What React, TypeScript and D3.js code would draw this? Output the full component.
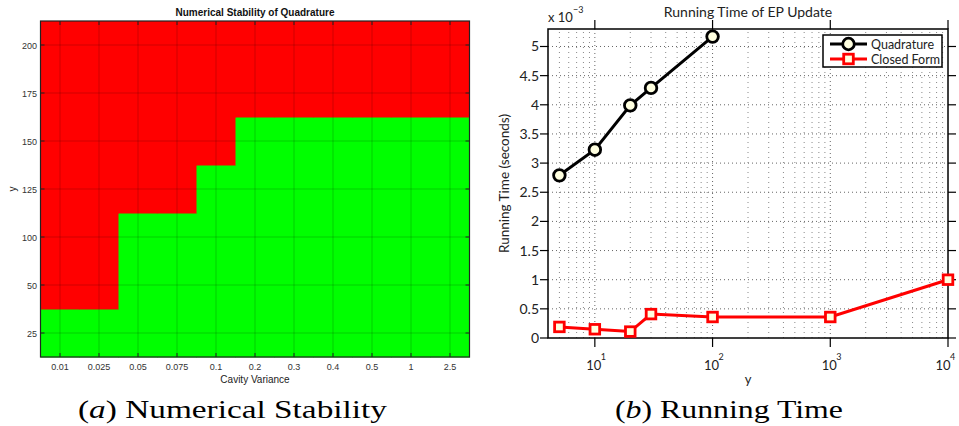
import React from 'react';
import * as d3 from 'd3';

// ---- left panel: stability grid ----
const varianceLabels = ['0.01', '0.025', '0.05', '0.075', '0.1', '0.2', '0.3', '0.4', '0.5', '1', '2.5'];
const yLabels = ['25', '50', '100', '125', '150', '175', '200'];
// 1 = stable (green), 0 = unstable (red); one row per y label
const stableGrid = [
  [1, 1, 1, 1, 1, 1, 1, 1, 1, 1, 1],
  [0, 0, 1, 1, 1, 1, 1, 1, 1, 1, 1],
  [0, 0, 1, 1, 1, 1, 1, 1, 1, 1, 1],
  [0, 0, 0, 0, 1, 1, 1, 1, 1, 1, 1],
  [0, 0, 0, 0, 0, 1, 1, 1, 1, 1, 1],
  [0, 0, 0, 0, 0, 0, 0, 0, 0, 0, 0],
  [0, 0, 0, 0, 0, 0, 0, 0, 0, 0, 0],
];

// ---- right panel: running time (x 10^-3 s) ----
const quadY = [5, 10, 20, 30, 100];
const quadTime = [2.79, 3.23, 3.99, 4.29, 5.17];
const closedY = [5, 10, 20, 30, 100, 1000, 10000];
const closedTime = [0.19, 0.15, 0.11, 0.41, 0.36, 0.36, 1.0];
const timeTicks = [0, 0.5, 1, 1.5, 2, 2.5, 3, 3.5, 4, 4.5, 5];
const decadeTicks = [10, 100, 1000, 10000];

const cream = '#ffffe0';
const sansL = 'Liberation Sans, Arial, sans-serif';
const sansR = 'Lato, DejaVu Sans, sans-serif';
const serif = 'Liberation Serif, DejaVu Serif, serif';

const HeatPanel = () => {
  const x = d3.scaleBand().domain(varianceLabels).range([40.5, 469.5]);
  const y = d3.scaleBand().domain([...yLabels].reverse()).range([21, 357]);
  const bw = x.bandwidth();
  const bh = y.bandwidth();
  const [x0, x1] = x.range();
  const [y0, y1] = y.range();

  return (
    <g>
      {stableGrid.map((row, ri) =>
        row.map((v, ci) => (
          <rect
            key={`${ri}-${ci}`}
            x={x(varianceLabels[ci])}
            y={y(yLabels[ri])}
            width={bw + 0.5}
            height={bh + 0.5}
            fill={v ? '#00ff00' : '#ff0000'}
          />
        ))
      )}
      {/* faint grid at tick positions */}
      {varianceLabels.map(c => (
        <line key={c} x1={x(c)! + bw / 2} x2={x(c)! + bw / 2} y1={y0} y2={y1} stroke="rgba(0,0,0,0.18)" />
      ))}
      {yLabels.map(r => (
        <line key={r} x1={x0} x2={x1} y1={y(r)! + bh / 2} y2={y(r)! + bh / 2} stroke="rgba(0,0,0,0.18)" />
      ))}
      <rect x={x0} y={y0} width={x1 - x0} height={y1 - y0} fill="none" stroke="#222" strokeWidth={1.2} />
      {varianceLabels.map(c => {
        const cx = x(c)! + bw / 2;
        return (
          <g key={c}>
            <line x1={cx} x2={cx} y1={y1} y2={y1 - 4} stroke="#222" />
            <line x1={cx} x2={cx} y1={y0} y2={y0 + 4} stroke="#222" />
            <text x={cx} y={370} textAnchor="middle" fontSize={9} fill="#333" fontFamily={sansL}>{c}</text>
          </g>
        );
      })}
      {yLabels.map(r => {
        const cy = y(r)! + bh / 2;
        return (
          <g key={r}>
            <line x1={x0} x2={x0 + 4} y1={cy} y2={cy} stroke="#222" />
            <line x1={x1} x2={x1 - 4} y1={cy} y2={cy} stroke="#222" />
            <text x={37} y={cy + 3.5} textAnchor="end" fontSize={9} fill="#333" fontFamily={sansL}>{r}</text>
          </g>
        );
      })}
      <text x={255} y={16} textAnchor="middle" fontSize={10} fontWeight="bold" fill="#111" fontFamily={sansL}>
        Numerical Stability of Quadrature
      </text>
      <text x={255} y={383} textAnchor="middle" fontSize={10} fill="#222" fontFamily={sansL}>Cavity Variance</text>
      <text transform="translate(16,189) rotate(-90)" textAnchor="middle" fontSize={10} fill="#222" fontFamily={sansL}>y</text>
      <text x={232.5} y={418} textAnchor="middle" fontSize={26} fontFamily={serif} textLength={309} lengthAdjust="spacingAndGlyphs">
        (<tspan fontStyle="italic">a</tspan>) Numerical Stability
      </text>
    </g>
  );
};

const TimePanel = () => {
  const x = d3.scaleLog().domain([4, 10000]).range([548, 948]);
  const y = d3.scaleLinear().domain([0, 5.3]).range([338, 29]);
  const [x0, x1] = x.range();
  const [y0, y1] = y.range();

  const minorX: number[] = [];
  [1, 10, 100, 1000].forEach(d => {
    for (let k = 2; k <= 9; k++) {
      const v = k * d;
      if (v > 4 && v < 10000) minorX.push(v);
    }
  });

  const line = d3.line<[number, number]>().x(d => x(d[0])).y(d => y(d[1]));
  const quadPts = quadY.map((v, i) => [v, quadTime[i]] as [number, number]);
  const closedPts = closedY.map((v, i) => [v, closedTime[i]] as [number, number]);

  return (
    <g>
      <rect x={x0} y={y1} width={x1 - x0} height={y0 - y1} fill="#fff" />
      {minorX.map(v => (
        <line key={v} x1={x(v)} x2={x(v)} y1={y0} y2={y1} stroke="#888" strokeDasharray="1,4" />
      ))}
      {decadeTicks.slice(0, 3).map(v => (
        <line key={v} x1={x(v)} x2={x(v)} y1={y0} y2={y1} stroke="#666" strokeDasharray="1,3" />
      ))}
      {timeTicks.slice(1).map(v => (
        <line key={v} x1={x0} x2={x1} y1={y(v)} y2={y(v)} stroke="#666" strokeDasharray="1,3" />
      ))}
      <rect x={x0} y={y1} width={x1 - x0} height={y0 - y1} fill="none" stroke="#000" strokeWidth={1.5} />
      {timeTicks.map(v => (
        <g key={v}>
          <line x1={x0} x2={x0 - 8} y1={y(v)} y2={y(v)} stroke="#000" strokeWidth={1.2} />
          <line x1={x1} x2={x1 + 8} y1={y(v)} y2={y(v)} stroke="#000" strokeWidth={1.2} />
          <text x={539} y={y(v) + 5} textAnchor="end" fontSize={14} fill="#222" fontFamily={sansR}>{String(v)}</text>
        </g>
      ))}
      {decadeTicks.map(v => {
        const e = Math.round(Math.log10(v));
        const dx = v === 10000 ? -4 : 0;
        return (
          <g key={v}>
            <line x1={x(v)} x2={x(v)} y1={y0} y2={y0 + 9} stroke="#000" strokeWidth={1.2} />
            <line x1={x(v)} x2={x(v)} y1={y1} y2={y1 - 9} stroke="#000" strokeWidth={1.2} />
            <text x={x(v) - 1 + dx} y={370} textAnchor="middle" fontSize={13} fill="#222" fontFamily={sansR}>10</text>
            <text x={x(v) + 6 + dx} y={360} fontSize={9} fill="#222" fontFamily={sansR}>{e}</text>
          </g>
        );
      })}
      <path d={line(quadPts)!} fill="none" stroke="#000" strokeWidth={3} />
      <path d={line(closedPts)!} fill="none" stroke="#ff0000" strokeWidth={3} />
      {quadPts.map(p => (
        <circle key={p[0]} cx={x(p[0])} cy={y(p[1])} r={5.8} fill={cream} stroke="#000" strokeWidth={2.8} />
      ))}
      {closedPts.map(p => (
        <rect key={p[0]} x={x(p[0]) - 4.8} y={y(p[1]) - 4.8} width={9.6} height={9.6} fill={cream} stroke="#ff0000" strokeWidth={2.8} />
      ))}
      {/* legend */}
      <rect x={823} y={35} width={119} height={32} fill="#fff" stroke="#000" strokeWidth={1.5} />
      <line x1={830} x2={867} y1={44} y2={44} stroke="#000" strokeWidth={3} />
      <circle cx={848.5} cy={44} r={5.8} fill={cream} stroke="#000" strokeWidth={2.8} />
      <text x={871} y={48.5} fontSize={12.5} fill="#222" fontFamily={sansR}>Quadrature</text>
      <line x1={830} x2={867} y1={59} y2={59} stroke="#ff0000" strokeWidth={3} />
      <rect x={843.7} y={54.2} width={9.6} height={9.6} fill={cream} stroke="#ff0000" strokeWidth={2.8} />
      <text x={871} y={63.5} fontSize={12.5} fill="#222" fontFamily={sansR}>Closed Form</text>
      {/* labels */}
      <text x={748} y={17} textAnchor="middle" fontSize={14} fill="#222" fontFamily={sansR}>Running Time of EP Update</text>
      <text x={548} y={22} fontSize={13} fill="#222" fontFamily={sansR}>x 10</text>
      <text x={573} y={13} fontSize={9} fill="#222" fontFamily={sansR}>−3</text>
      <text transform="translate(509,183.5) rotate(-90)" textAnchor="middle" fontSize={13.5} fill="#222" fontFamily={sansR}>
        Running Time (seconds)
      </text>
      <text x={748} y={384} textAnchor="middle" fontSize={13} fill="#222" fontFamily={sansR}>y</text>
      <text x={729} y={418} textAnchor="middle" fontSize={26} fontFamily={serif} textLength={228} lengthAdjust="spacingAndGlyphs">
        (<tspan fontStyle="italic">b</tspan>) Running Time
      </text>
    </g>
  );
};

export default function App() {
  return (
    <svg width={959} height={426} style={{ position: 'absolute', left: 0, top: 0, background: '#fff' }}>
      <HeatPanel />
      <TimePanel />
    </svg>
  );
}
